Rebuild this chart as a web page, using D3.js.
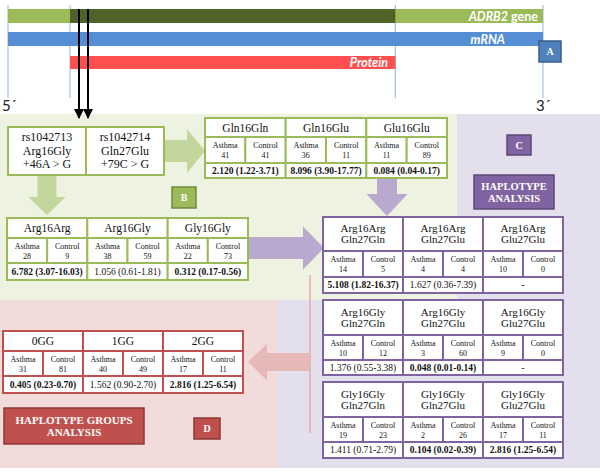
<!DOCTYPE html>
<html>
<head>
<meta charset="utf-8">
<script src="https://cdn.jsdelivr.net/npm/d3@7"></script>
<style>
  body { margin: 0; background: #fff; }
  svg { display: block; }
</style>
</head>
<body>
<script>
'use strict';

// genotype tables (panel B)
let glnGenotypes = [["Gln16Gln"], ["Gln16Glu"], ["Glu16Glu"]];
let glnAsthma = [41, 36, 11];
let glnControl = [41, 11, 89];
let glnOR = ["2.120 (1.22-3.71)", "8.096 (3.90-17.77)", "0.084 (0.04-0.17)"];
let glnBold = [true, true, true];

let argGenotypes = [["Arg16Arg"], ["Arg16Gly"], ["Gly16Gly"]];
let argAsthma = [28, 38, 22];
let argControl = [9, 59, 73];
let argOR = ["6.782 (3.07-16.03)", "1.056 (0.61-1.81)", "0.312 (0.17-0.56)"];
let argBold = [true, false, true];

// haplotype tables (panel C)
let hap1Labels = [["Arg16Arg", "Gln27Gln"], ["Arg16Arg", "Gln27Glu"], ["Arg16Arg", "Glu27Glu"]];
let hap1Asthma = [14, 4, 10];
let hap1Control = [5, 4, 0];
let hap1OR = ["5.108 (1.82-16.37)", "1.627 (0.36-7.39)", "-"];
let hap1Bold = [true, false, false];

let hap2Labels = [["Arg16Gly", "Gln27Gln"], ["Arg16Gly", "Gln27Glu"], ["Arg16Gly", "Glu27Glu"]];
let hap2Asthma = [10, 3, 9];
let hap2Control = [12, 60, 0];
let hap2OR = ["1.376 (0.55-3.38)", "0.048 (0.01-0.14)", "-"];
let hap2Bold = [false, true, false];

let hap3Labels = [["Gly16Gly", "Gln27Gln"], ["Gly16Gly", "Gln27Glu"], ["Gly16Gly", "Glu27Glu"]];
let hap3Asthma = [19, 2, 17];
let hap3Control = [23, 26, 11];
let hap3OR = ["1.411 (0.71-2.79)", "0.104 (0.02-0.39)", "2.816 (1.25-6.54)"];
let hap3Bold = [false, true, true];

// haplotype groups (panel D)
let grpLabels = [["0GG"], ["1GG"], ["2GG"]];
let grpAsthma = [31, 40, 17];
let grpControl = [81, 49, 11];
let grpOR = ["0.405 (0.23-0.70)", "1.562 (0.90-2.70)", "2.816 (1.25-6.54)"];
let grpBold = [true, false, true];

// SNPs
let snpLines = [["rs1042713", "Arg16Gly", "+46A > G"], ["rs1042714", "Gln27Glu", "+79C > G"]];

let serif = "'Liberation Serif', 'Times New Roman', serif";
let sans = "Lato, 'Open Sans', sans-serif";

let colors = {
  green: "#9bbb59", greenDark: "#71893f", greenArrow: "#c3d69b", greenBg: "#eef2e1",
  purple: "#8064a2", purpleDark: "#5c4776", purpleArrow: "#b9a9cf", purpleBg: "#e4dfec",
  red: "#c0504d", redDark: "#8c3836", redArrow: "#e6b9b8", redBg: "#f2dcdb",
  blue: "#558ed5"
};

let svg = d3.select("body").append("svg")
  .attr("width", 600)
  .attr("height", 472);

// background panels
svg.append("rect").attr("x", 0).attr("y", 114).attr("width", 457).attr("height", 186).attr("fill", colors.greenBg);
svg.append("path")
  .attr("d", "M457,114 H600 V468 H278 V300 H457 Z")
  .attr("fill", colors.purpleBg);
svg.append("rect").attr("x", 0).attr("y", 300).attr("width", 278).attr("height", 168).attr("fill", colors.redBg);

// panel A: gene, mRNA, protein
let gx = d3.scaleLinear().domain([0, 1]).range([8, 543]);
let cds = [0.116, 0.724];

[0, cds[0], cds[1], 1].forEach(t => {
  svg.append("line")
    .attr("x1", gx(t)).attr("x2", gx(t))
    .attr("y1", 5).attr("y2", 98)
    .attr("stroke", "#95b3d7").attr("stroke-width", 1);
});

svg.append("rect").attr("x", gx(0)).attr("y", 9).attr("width", gx(1) - gx(0)).attr("height", 14).attr("fill", colors.green);
svg.append("rect").attr("x", gx(cds[0])).attr("y", 9).attr("width", gx(cds[1]) - gx(cds[0])).attr("height", 14).attr("fill", "#4f6228");
svg.append("rect").attr("x", gx(0)).attr("y", 32).attr("width", gx(1) - gx(0)).attr("height", 14).attr("fill", colors.blue);
svg.append("rect").attr("x", gx(cds[0])).attr("y", 56).attr("width", gx(cds[1]) - gx(cds[0])).attr("height", 13).attr("fill", "#ff4f4f");

let geneText = svg.append("text")
  .attr("x", 538).attr("y", 20.5)
  .attr("text-anchor", "end")
  .attr("font-family", sans).attr("font-size", 12.5).attr("font-weight", "bold")
  .attr("fill", "#fff");
geneText.append("tspan").attr("font-style", "italic").text("ADRB2");
geneText.append("tspan").text(" gene");

svg.append("text")
  .attr("x", 505).attr("y", 43.5)
  .attr("text-anchor", "end")
  .attr("font-family", sans).attr("font-size", 12.5).attr("font-weight", "bold").attr("font-style", "italic")
  .attr("fill", "#fff").text("mRNA");

svg.append("text")
  .attr("x", 388).attr("y", 67)
  .attr("text-anchor", "end")
  .attr("font-family", sans).attr("font-size", 12.5).attr("font-weight", "bold").attr("font-style", "italic")
  .attr("fill", "#fff").text("Protein");

svg.append("text").attr("x", 2).attr("y", 111)
  .attr("font-family", sans).attr("font-size", 15).attr("fill", "#222").text("5´");
svg.append("text").attr("x", 536).attr("y", 111)
  .attr("font-family", sans).attr("font-size", 15).attr("fill", "#222").text("3´");

// letter boxes
function letterBox(x, y, w, h, fill, stroke, lines, size) {
  svg.append("rect")
    .attr("x", x).attr("y", y).attr("width", w).attr("height", h)
    .attr("fill", fill).attr("stroke", stroke).attr("stroke-width", 1.5);
  let t = svg.append("text")
    .attr("text-anchor", "middle")
    .attr("font-family", serif).attr("font-weight", "bold").attr("font-size", size)
    .attr("fill", "#fff");
  let lh = size * 1.15;
  let y0 = y + h / 2 - (lines.length - 1) * lh / 2 + size * 0.35;
  lines.forEach((l, i) => {
    t.append("tspan").attr("x", x + w / 2).attr("y", y0 + i * lh).text(l);
  });
}

letterBox(539, 41, 22, 21, "#4f81bd", "#385d8a", ["A"], 10);

// block arrows
function arrowRight(x0, x1, cy, shaftH, headH, headW, fill) {
  let p = d3.path();
  p.moveTo(x0, cy - shaftH / 2);
  p.lineTo(x1 - headW, cy - shaftH / 2);
  p.lineTo(x1 - headW, cy - headH / 2);
  p.lineTo(x1, cy);
  p.lineTo(x1 - headW, cy + headH / 2);
  p.lineTo(x1 - headW, cy + shaftH / 2);
  p.lineTo(x0, cy + shaftH / 2);
  p.closePath();
  svg.append("path").attr("d", p.toString()).attr("fill", fill);
}
function arrowLeft(x0, x1, cy, shaftH, headH, headW, fill) {
  // x0 is the tail (right), x1 the tip (left)
  let p = d3.path();
  p.moveTo(x0, cy - shaftH / 2);
  p.lineTo(x1 + headW, cy - shaftH / 2);
  p.lineTo(x1 + headW, cy - headH / 2);
  p.lineTo(x1, cy);
  p.lineTo(x1 + headW, cy + headH / 2);
  p.lineTo(x1 + headW, cy + shaftH / 2);
  p.lineTo(x0, cy + shaftH / 2);
  p.closePath();
  svg.append("path").attr("d", p.toString()).attr("fill", fill);
}
function arrowDown(cx, y0, y1, shaftW, headW, headH, fill) {
  let p = d3.path();
  p.moveTo(cx - shaftW / 2, y0);
  p.lineTo(cx - shaftW / 2, y1 - headH);
  p.lineTo(cx - headW / 2, y1 - headH);
  p.lineTo(cx, y1);
  p.lineTo(cx + headW / 2, y1 - headH);
  p.lineTo(cx + shaftW / 2, y1 - headH);
  p.lineTo(cx + shaftW / 2, y0);
  p.closePath();
  svg.append("path").attr("d", p.toString()).attr("fill", fill);
}

arrowRight(164, 205, 151, 22, 44, 18, colors.greenArrow);
arrowDown(47, 175, 215, 19, 37, 18, colors.greenArrow);
arrowDown(387, 177, 216, 20, 41, 22, colors.purpleArrow);
arrowRight(248, 324, 248, 22, 43, 21, colors.purpleArrow);

// thin red connector and arrow to groups table
svg.append("line")
  .attr("x1", 310).attr("x2", 310).attr("y1", 275).attr("y2", 433)
  .attr("stroke", "#e39a9a").attr("stroke-width", 1.2);
arrowLeft(310, 248, 362, 18, 37, 19, colors.redArrow);

// SNP box
let snpX = d3.scaleBand().domain(d3.range(2)).range([8, 164]);
snpLines.forEach((lines, i) => {
  svg.append("rect")
    .attr("x", snpX(i)).attr("y", 127)
    .attr("width", snpX.bandwidth()).attr("height", 48)
    .attr("fill", "#fff").attr("stroke", colors.green).attr("stroke-width", 2);
  let t = svg.append("text")
    .attr("text-anchor", "middle")
    .attr("font-family", serif).attr("font-size", 12).attr("fill", "#111");
  lines.forEach((l, j) => {
    t.append("tspan")
      .attr("x", snpX(i) + snpX.bandwidth() / 2)
      .attr("y", 141 + j * 13.5)
      .text(l);
  });
});

// generic 3-column table
function drawTable(x, y, w, hHead, hSub, hVal, labels, asthma, control, or, bold, stroke, headSize) {
  let cols = d3.scaleBand().domain(d3.range(3)).range([x, x + w]);
  let sub = d3.scaleBand().domain(["Asthma", "Control"]).range([0, cols.bandwidth()]);
  let g = svg.append("g");
  let ySub = y + hHead, yVal = y + hHead + hSub;

  let cellStyle = sel => sel.attr("fill", "#fff").attr("stroke", stroke).attr("stroke-width", 2);

  d3.range(3).forEach(i => {
    let cx = cols(i);
    // header cell
    g.append("rect").attr("x", cx).attr("y", y).attr("width", cols.bandwidth()).attr("height", hHead).call(cellStyle);
    let ht = g.append("text")
      .attr("text-anchor", "middle")
      .attr("font-family", serif).attr("font-size", headSize).attr("fill", "#111");
    let lh = headSize * 1.0;
    let hy0 = y + hHead / 2 - (labels[i].length - 1) * lh / 2 + headSize * 0.35;
    labels[i].forEach((l, j) => {
      ht.append("tspan").attr("x", cx + cols.bandwidth() / 2).attr("y", hy0 + j * lh).text(l);
    });

    // sub cells
    [["Asthma", asthma[i]], ["Control", control[i]]].forEach(([k, v]) => {
      g.append("rect").attr("x", cx + sub(k)).attr("y", ySub).attr("width", sub.bandwidth()).attr("height", hSub).call(cellStyle);
      let st = g.append("text")
        .attr("text-anchor", "middle")
        .attr("font-family", serif).attr("font-size", 8).attr("fill", "#111");
      st.append("tspan").attr("x", cx + sub(k) + sub.bandwidth() / 2).attr("y", ySub + hSub / 2 - 2).text(k);
      st.append("tspan").attr("x", cx + sub(k) + sub.bandwidth() / 2).attr("y", ySub + hSub / 2 + 8).text(v);
    });

    // value cell
    g.append("rect").attr("x", cx).attr("y", yVal).attr("width", cols.bandwidth()).attr("height", hVal).call(cellStyle);
    g.append("text")
      .attr("x", cx + cols.bandwidth() / 2).attr("y", yVal + hVal / 2 + 3.3)
      .attr("text-anchor", "middle")
      .attr("font-family", serif).attr("font-size", 9.5)
      .attr("font-weight", bold[i] ? "bold" : "normal")
      .attr("fill", "#111")
      .text(or[i]);
  });
}

drawTable(205, 118, 242, 19, 26, 15, glnGenotypes, glnAsthma, glnControl, glnOR, glnBold, colors.green, 11.5);
drawTable(7, 218, 241, 20, 25, 17, argGenotypes, argAsthma, argControl, argOR, argBold, colors.green, 11.5);

drawTable(323, 217, 240, 34, 26, 16, hap1Labels, hap1Asthma, hap1Control, hap1OR, hap1Bold, colors.purple, 11);
drawTable(323, 300, 240, 35, 25, 15, hap2Labels, hap2Asthma, hap2Control, hap2OR, hap2Bold, colors.purple, 11);
drawTable(323, 382, 240, 35, 25, 16, hap3Labels, hap3Asthma, hap3Control, hap3OR, hap3Bold, colors.purple, 11);

drawTable(3, 331, 240, 20, 25, 17, grpLabels, grpAsthma, grpControl, grpOR, grpBold, colors.red, 11.5);

// panel labels
letterBox(172, 187, 24, 21, colors.green, colors.greenDark, ["B"], 10);
letterBox(507, 135, 24, 20, colors.purple, colors.purpleDark, ["C"], 10);
letterBox(474, 175, 80, 34, colors.purple, colors.purpleDark, ["HAPLOTYPE", "ANALYSIS"], 10.5);
letterBox(4, 408, 140, 36, colors.red, colors.redDark, ["HAPLOTYPE GROUPS", "ANALYSIS"], 11);
letterBox(194, 418, 26, 21, colors.red, colors.redDark, ["D"], 10);

// SNP position arrows (drawn last, on top)
let defs = svg.append("defs");
defs.append("marker")
  .attr("id", "head")
  .attr("viewBox", "0 0 10 10")
  .attr("refX", 9).attr("refY", 5)
  .attr("markerWidth", 5).attr("markerHeight", 5)
  .attr("orient", "auto")
  .append("path").attr("d", "M0,0 L10,5 L0,10 Z").attr("fill", "#000");

[79, 88].forEach(x => {
  svg.append("line")
    .attr("x1", x).attr("x2", x).attr("y1", 9).attr("y2", 118)
    .attr("stroke", "#000").attr("stroke-width", 2)
    .attr("marker-end", "url(#head)");
});
</script>
</body>
</html>
